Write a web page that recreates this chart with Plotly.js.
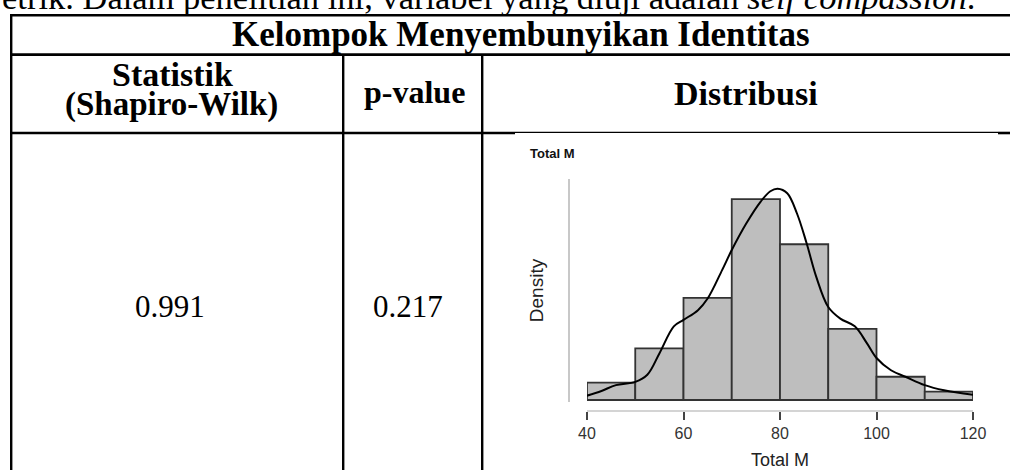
<!DOCTYPE html>
<html>
<head>
<meta charset="utf-8">
<script src="https://cdn.plot.ly/plotly-3.0.1.min.js"></script>
<style>
  html, body { margin: 0; padding: 0; background: #ffffff; }
  #chart { width: 1010px; height: 470px; }
</style>
</head>
<body>
<div id="chart"></div>
<script>
// ---- data ----
const introText = 'etrik. Dalam penelitian ini, variabel yang diuji adalah <i>self compassion</i>.';
const tableTitle = 'Kelompok Menyembunyikan Identitas';
const headerStat1 = 'Statistik';
const headerStat2 = '(Shapiro-Wilk)';
const headerP = 'p-value';
const headerDist = 'Distribusi';
const statValues = ['0.991'];
const pValues = ['0.217'];

const plotTitle = 'Total M';
const xTitle = 'Total M';
const yTitle = 'Density';
const binEdges = [40, 50, 60, 70, 80, 90, 100, 110, 120];
const binDensity = [0.0027, 0.0080, 0.0158, 0.0311, 0.0241, 0.0110, 0.0036, 0.0013];
const kdeX = [40, 43, 46, 50, 52.5, 55, 58, 60, 63, 65, 68, 70, 73, 76, 78, 79.5, 81.5, 83.5, 85.5, 87.5, 90, 92.5, 95.5, 98, 100, 103, 106, 110, 114, 120];
const kdeY = [0.00067, 0.0014, 0.0023, 0.0028, 0.0039, 0.0072, 0.0114, 0.0124, 0.0139, 0.0157, 0.0201, 0.0232, 0.0273, 0.0307, 0.0323, 0.0327, 0.0320, 0.0289, 0.0243, 0.0191, 0.0144, 0.0126, 0.0114, 0.0088, 0.0065, 0.0046, 0.0036, 0.0023, 0.0015, 0.0008];
const xTickVals = [40, 60, 80, 100, 120];
const xTickText = ['40', '60', '80', '100', '120'];

// ---- helpers: pixel -> paper (margins are zero) ----
const W = 1010, H = 470;
const X = px => px / W;
const Y = py => 1 - py / H;

const binCenters = binDensity.map((_, i) => (binEdges[i] + binEdges[i + 1]) / 2);
const binWidths = binDensity.map((_, i) => binEdges[i + 1] - binEdges[i]);

const serif = '"Liberation Serif", "Times New Roman", serif';
const sans = '"Liberation Sans", Arial, sans-serif';

const traces = [
  {
    type: 'bar',
    x: binCenters,
    y: binDensity,
    width: binWidths,
    marker: { color: '#bebebe', line: { color: '#333333', width: 1.8 } },
    hoverinfo: 'skip',
    showlegend: false
  },
  {
    type: 'scatter',
    mode: 'lines',
    x: kdeX,
    y: kdeY,
    line: { color: '#000000', width: 2, shape: 'spline', smoothing: 1 },
    hoverinfo: 'skip',
    showlegend: false
  }
];

function line(x0, y0, x1, y1, w) {
  return { type: 'line', xref: 'paper', yref: 'paper', x0: X(x0), y0: Y(y0), x1: X(x1), y1: Y(y1),
           line: { color: '#000000', width: w }, layer: 'above' };
}

const shapes = [
  line(10, 15.3, 1012, 15.3, 2.6),
  line(10, 54.6, 1012, 54.6, 2.6),
  line(10, 133, 515, 133, 2.6),
  line(998, 133, 1012, 133, 2.6),
  line(515, 132.3, 998, 132.3, 1.2),
  line(11.2, 14, 11.2, 472, 2.4),
  line(343.2, 54, 343.2, 472, 2.4),
  line(482.2, 54, 482.2, 472, 2.4)
];

function ann(text, xpx, ypx, size, opts) {
  return Object.assign({
    text: text, xref: 'paper', yref: 'paper', x: X(xpx), y: Y(ypx),
    xanchor: 'center', yanchor: 'middle', showarrow: false,
    font: { family: serif, size: size, color: '#000000' }
  }, opts || {});
}

const annotations = [
  ann(introText, 0, -3.5, 34.5, { xanchor: 'left' }),
  ann('<b>' + tableTitle + '</b>', 230, 34, 35, { xanchor: 'left' }),
  ann('<b>' + headerStat1 + '</b>', 172, 74, 34),
  ann('<b>' + headerStat2 + '</b>', 171, 104, 33),
  ann('<b>' + headerP + '</b>', 414, 92, 32),
  ann('<b>' + headerDist + '</b>', 746, 93.5, 34),
  ann(statValues[0], 170, 306.5, 31),
  ann(pValues[0], 407.5, 306.5, 31),
  ann('<b>' + plotTitle + '</b>', 528, 153.5, 13, { xanchor: 'left', font: { family: sans, size: 13, color: '#111111' } })
];

const layout = {
  width: W,
  height: H,
  margin: { l: 0, r: 0, t: 0, b: 0, pad: 0 },
  paper_bgcolor: '#ffffff',
  plot_bgcolor: '#ffffff',
  bargap: 0,
  showlegend: false,
  xaxis: {
    domain: [X(587), X(973)],
    range: [40, 120],
    anchor: 'free',
    position: Y(410),
    tickvals: xTickVals,
    ticktext: xTickText,
    ticks: 'outside',
    ticklen: 8,
    tickwidth: 2,
    tickcolor: '#444444',
    showline: true,
    linecolor: '#d4d4d4',
    linewidth: 1.5,
    showgrid: false,
    zeroline: false,
    tickfont: { family: sans, size: 16, color: '#333333' },
    title: { text: xTitle, font: { family: sans, size: 18, color: '#222222' }, standoff: 15 }
  },
  yaxis: {
    domain: [Y(402), Y(179)],
    range: [-0.00031, 0.0342],
    anchor: 'free',
    position: X(568),
    showline: true,
    linecolor: '#c8c8c8',
    linewidth: 1.5,
    ticks: '',
    showticklabels: false,
    showgrid: false,
    zeroline: false,
    title: { text: yTitle, font: { family: sans, size: 19, color: '#222222' }, standoff: 18 }
  },
  shapes: shapes,
  annotations: annotations
};

Plotly.newPlot('chart', traces, layout, { displayModeBar: false, staticPlot: true });
</script>
</body>
</html>
